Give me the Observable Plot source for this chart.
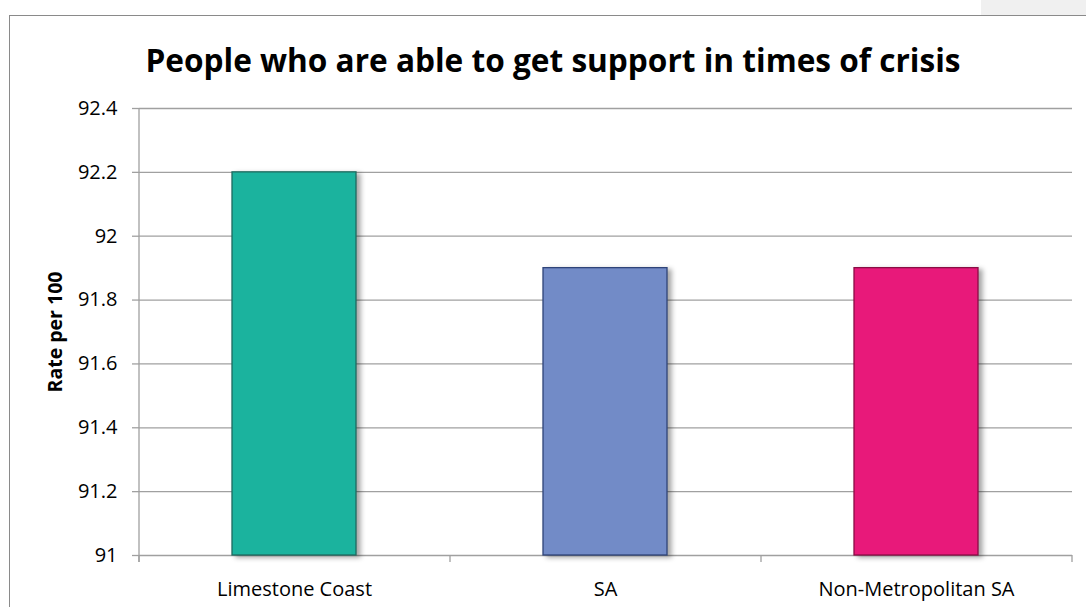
<!DOCTYPE html>
<html>
<head>
<meta charset="utf-8">
<script src="https://cdn.jsdelivr.net/npm/d3@7"></script>
<script src="https://cdn.jsdelivr.net/npm/@observablehq/plot@0.6"></script>
<style>
  html, body { margin: 0; padding: 0; background: #fff; overflow: hidden; width: 1086px; height: 607px; }
  #wrap { position: relative; width: 1086px; height: 607px; }
  #frame { position: absolute; left: 9px; top: 15px; width: 1200px; height: 700px; border: 1px solid #8a8a8a; box-sizing: border-box; }
  #corner { position: absolute; left: 981px; top: 0; width: 105px; height: 15px; background: #f0f0f0; }
  #title { position: absolute; left: 10px; top: 0; width: 1086px; height: 90px; text-align: center;
    font-family: "Open Sans", sans-serif; font-weight: 700; font-size: 31.6px; line-height: 1; padding-top: 44px; box-sizing: border-box; color: #000; }
  #chart { position: absolute; left: 0; top: 90px; }
  g[aria-label="bar"] rect { filter: drop-shadow(4px 2px 2.5px rgba(0,0,0,0.35)); }
</style>
</head>
<body>
<div id="wrap">
  <div id="corner"></div>
  <div id="frame"></div>
  <div id="title">People who are able to get support in times of crisis</div>
  <div id="chart"></div>
</div>
<script>
const categories = ["Limestone Coast", "SA", "Non-Metropolitan SA"];
const values = [92.2, 91.9, 91.9];
const fills = ["#1BB39E", "#728BC7", "#E8197A"];
const strokes = ["#1E6B60", "#2F4479", "#8A0D45"];
const yTicks = [91, 91.2, 91.4, 91.6, 91.8, 92, 92.2, 92.4];
const yLabel = "Rate per 100";

const data = categories.map((c, i) => ({category: c, value: values[i], fill: fills[i], stroke: strokes[i]}));

const axisColor = "#a0a0a0";

function axisLines(index, scales, values, dims) {
  const ns = "http://www.w3.org/2000/svg";
  const g = document.createElementNS(ns, "g");
  const left = dims.marginLeft, right = dims.width - dims.marginRight;
  const top = dims.marginTop, bottom = dims.height - dims.marginBottom;
  const line = (x1, y1, x2, y2) => {
    const l = document.createElementNS(ns, "line");
    l.setAttribute("x1", x1); l.setAttribute("y1", y1);
    l.setAttribute("x2", x2); l.setAttribute("y2", y2);
    l.setAttribute("stroke", axisColor); l.setAttribute("stroke-width", 1.3);
    g.appendChild(l);
  };
  line(left, top, left, bottom + 7);
  const n = categories.length;
  const step = (right - left) / n;
  for (let i = 0; i <= n; i++) line(left + i * step, bottom, left + i * step, bottom + 7);
  return g;
}

const chart = Plot.plot({
  width: 1086,
  height: 517,
  marginTop: 18,
  marginBottom: 52,
  marginLeft: 139,
  marginRight: 14,
  style: {fontFamily: "Open Sans, sans-serif", fontSize: "20px", color: "#000", background: "transparent"},
  x: {domain: categories, paddingInner: 0.6, paddingOuter: 0.3, label: null},
  y: {domain: [91, 92.4], label: null},
  marks: [
    Plot.ruleY(yTicks, {stroke: axisColor, strokeWidth: 1.3}),
    Plot.axisY({ticks: yTicks, tickSize: 7, tickPadding: 15, stroke: axisColor, strokeWidth: 1.3, tickFormat: d => String(+d.toFixed(1)), fontSize: 20, label: null}),
    Plot.axisX({tickSize: 0, tickPadding: 26, fontSize: 20, label: null}),
    Plot.barY(data, {x: "category", y1: 91, y2: "value", fill: d => d.fill, stroke: d => d.stroke, strokeWidth: 1.3}),
    axisLines,
    Plot.text([yLabel], {frameAnchor: "left", textAnchor: "middle", dx: -84, rotate: -90, fontWeight: "bold", fontSize: 19.5, text: d => d})
  ]
});
document.getElementById("chart").appendChild(chart);
</script>
</body>
</html>
